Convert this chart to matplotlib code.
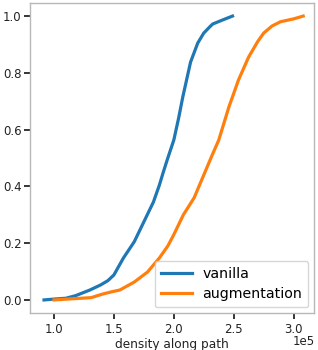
import matplotlib
matplotlib.use("Agg")
import matplotlib.pyplot as plt
import numpy as np

vanilla_x = [0.917e5, 1.0e5, 1.1e5, 1.18e5, 1.3e5, 1.39e5, 1.45e5, 1.5e5, 1.58e5, 1.67e5, 1.75e5,
             1.83e5, 1.88e5, 1.91e5, 1.95e5, 2.0e5, 2.04e5, 2.075e5, 2.14e5, 2.2e5, 2.25e5,
             2.3e5, 2.325e5, 2.4e5, 2.49e5]
vanilla_y = [0.0, 0.003, 0.006, 0.015, 0.035, 0.053, 0.068, 0.088, 0.148, 0.205, 0.275,
             0.345, 0.405, 0.447, 0.5, 0.563, 0.64, 0.715, 0.838, 0.905, 0.94,
             0.962, 0.972, 0.985, 1.0]
aug_x = [1.0e5, 1.15e5, 1.31e5, 1.4e5, 1.475e5, 1.55e5, 1.67e5, 1.78e5, 1.88e5, 1.95e5, 2.0e5,
         2.08e5, 2.17e5, 2.25e5, 2.32e5, 2.375e5, 2.46e5, 2.54e5, 2.625e5, 2.7e5, 2.75e5,
         2.82e5, 2.89e5, 3.0e5, 3.08e5]
aug_y = [0.0, 0.004, 0.008, 0.02, 0.028, 0.035, 0.063, 0.098, 0.148, 0.19, 0.23,
         0.30, 0.36, 0.44, 0.51, 0.563, 0.68, 0.775, 0.856, 0.91, 0.94,
         0.965, 0.98, 0.99, 1.0]

fig = plt.figure(figsize=(3.18, 3.5), dpi=100)
ax = fig.add_axes([30 / 318, 37 / 350, 284 / 318, 310 / 350])
ax.plot(vanilla_x, vanilla_y, color="#1f77b4", lw=2.3, label="vanilla")
ax.plot(aug_x, aug_y, color="#ff7f0e", lw=2.3, label="augmentation")
ax.set_xlim(0.8e5, 3.17e5)
ax.set_ylim(-0.046, 1.046)
ax.set_yticks([0.0, 0.2, 0.4, 0.6, 0.8, 1.0])
ax.set_xticks([1.0e5, 1.5e5, 2.0e5, 2.5e5, 3.0e5])
ax.set_xticklabels(["1.0", "1.5", "2.0", "2.5", "3.0"])
for s in ax.spines.values():
    s.set_color("#b8b8b8")
    s.set_linewidth(1.0)
ax.tick_params(length=4.5, width=1.1, labelsize=8.5, color="black", labelcolor="#222222")
ax.tick_params(axis="x", pad=3)
ax.tick_params(axis="y", pad=1.5)
ax.set_xlabel("density along path", fontsize=8.7, labelpad=1, color="#222222")
fig.text(0.99, 5 / 350, "1e5", fontsize=8.5, ha="right", va="baseline", color="#222222")
leg = ax.legend(loc="lower right", fontsize=10.2, handlelength=2.2, framealpha=0.8,
                borderaxespad=0.4, borderpad=0.45, labelspacing=0.4, handletextpad=0.7)
fig.savefig("out.png", dpi=100)
